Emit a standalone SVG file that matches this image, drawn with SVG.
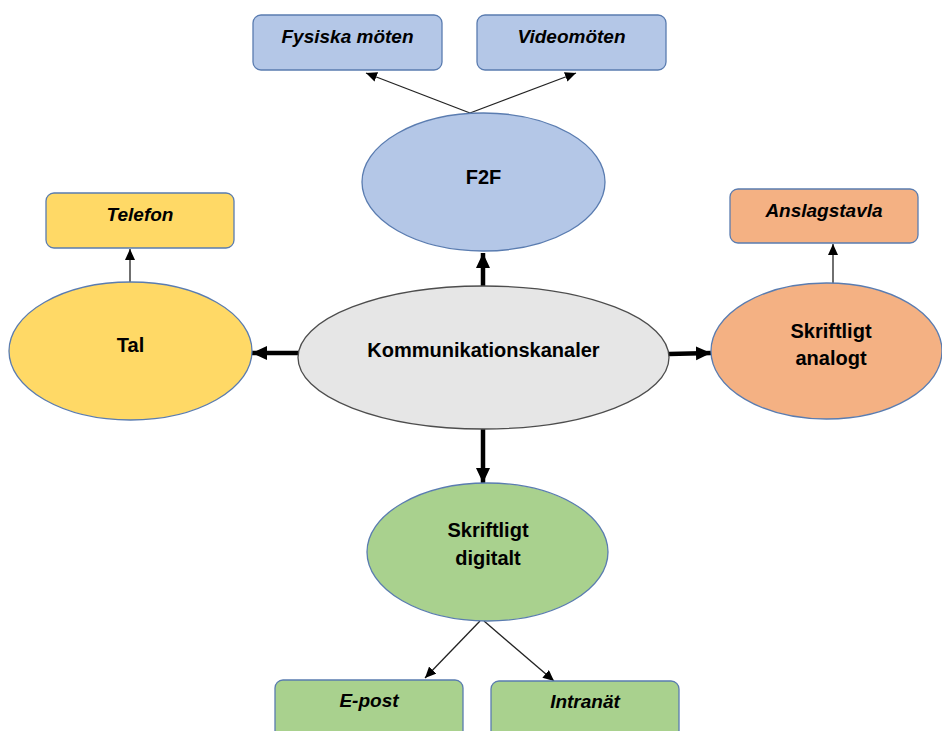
<svg xmlns="http://www.w3.org/2000/svg" width="942" height="731" viewBox="0 0 942 731">
<defs>
<marker id="thin" markerUnits="userSpaceOnUse" markerWidth="12" markerHeight="10" refX="11" refY="5" orient="auto"><path d="M0,0 L11,5 L0,10 Z" fill="#000"/></marker>
<marker id="thick" markerUnits="userSpaceOnUse" markerWidth="16" markerHeight="16" refX="15" refY="8" orient="auto"><path d="M0,1 L15,8 L0,15 Z" fill="#000"/></marker>
</defs>
<style>
.el{stroke:#5a7cb0;stroke-width:1.3}
.box{stroke:#5a7cb0;stroke-width:1.3}
.t{font-family:"Liberation Sans",Arial,sans-serif;font-weight:bold;font-size:20px;fill:#000;text-anchor:middle}
.bt{font-family:"Liberation Sans",Arial,sans-serif;font-weight:bold;font-style:italic;font-size:19px;fill:#000;text-anchor:middle}
.thin{stroke:#222;stroke-width:1.3;fill:none;marker-end:url(#thin)}
.thick{stroke:#000;stroke-width:4.5;fill:none;marker-end:url(#thick)}
</style>
<rect width="942" height="731" fill="#fff"/>
<g id="connectors">
<line class="thick" x1="483" y1="287" x2="483" y2="253"/>
<line class="thick" x1="299" y1="353" x2="252" y2="353"/>
<line class="thick" x1="669" y1="354" x2="711" y2="353"/>
<line class="thick" x1="483" y1="429" x2="483" y2="483"/>
<line class="thin" x1="470" y1="113" x2="366" y2="73"/>
<line class="thin" x1="470" y1="113" x2="576" y2="73"/>
<line class="thin" x1="130" y1="282" x2="130" y2="249"/>
<line class="thin" x1="833" y1="284" x2="833" y2="244"/>
<line class="thin" x1="480" y1="621" x2="425" y2="678"/>
<line class="thin" x1="484" y1="621" x2="554" y2="681"/>
</g>
<g id="center">
<ellipse cx="483.5" cy="357.5" rx="185.5" ry="71.5" fill="#e6e6e6" stroke="#4d4d4d" stroke-width="1.3"/>
<text class="t" x="483.5" y="357">Kommunikationskanaler</text>
</g>
<g id="f2f">
<ellipse class="el" cx="483.5" cy="182" rx="121.5" ry="69" fill="#b4c7e7"/>
<text class="t" x="483.5" y="184">F2F</text>
</g>
<g id="tal">
<ellipse class="el" cx="130.5" cy="351" rx="121.5" ry="69" fill="#ffd966"/>
<text class="t" x="130.5" y="352">Tal</text>
</g>
<g id="analogt">
<ellipse class="el" cx="826.5" cy="351" rx="115.5" ry="68" fill="#f4b183"/>
<text class="t" x="831" y="338">Skriftligt</text>
<text class="t" x="831" y="365">analogt</text>
</g>
<g id="digitalt">
<ellipse class="el" cx="487.5" cy="552" rx="120.5" ry="69" fill="#a9d18e"/>
<text class="t" x="488" y="537">Skriftligt</text>
<text class="t" x="488" y="565">digitalt</text>
</g>
<g id="fysiska">
<rect class="box" x="253" y="15" width="189" height="55" rx="8" fill="#b4c7e7"/>
<text class="bt" x="347.5" y="43">Fysiska möten</text>
</g>
<g id="video">
<rect class="box" x="477" y="15" width="189" height="55" rx="8" fill="#b4c7e7"/>
<text class="bt" x="571.5" y="43">Videomöten</text>
</g>
<g id="telefon">
<rect class="box" x="46" y="193" width="188" height="55" rx="8" fill="#ffd966"/>
<text class="bt" x="140" y="221">Telefon</text>
</g>
<g id="anslagstavla">
<rect class="box" x="730" y="189" width="188" height="54" rx="8" fill="#f4b183"/>
<text class="bt" x="824" y="217">Anslagstavla</text>
</g>
<g id="epost">
<rect class="box" x="275" y="680" width="188" height="60" rx="8" fill="#a9d18e"/>
<text class="bt" x="369" y="707">E-post</text>
</g>
<g id="intranat">
<rect class="box" x="491" y="681" width="188" height="60" rx="8" fill="#a9d18e"/>
<text class="bt" x="585" y="708">Intranät</text>
</g>
</svg>
